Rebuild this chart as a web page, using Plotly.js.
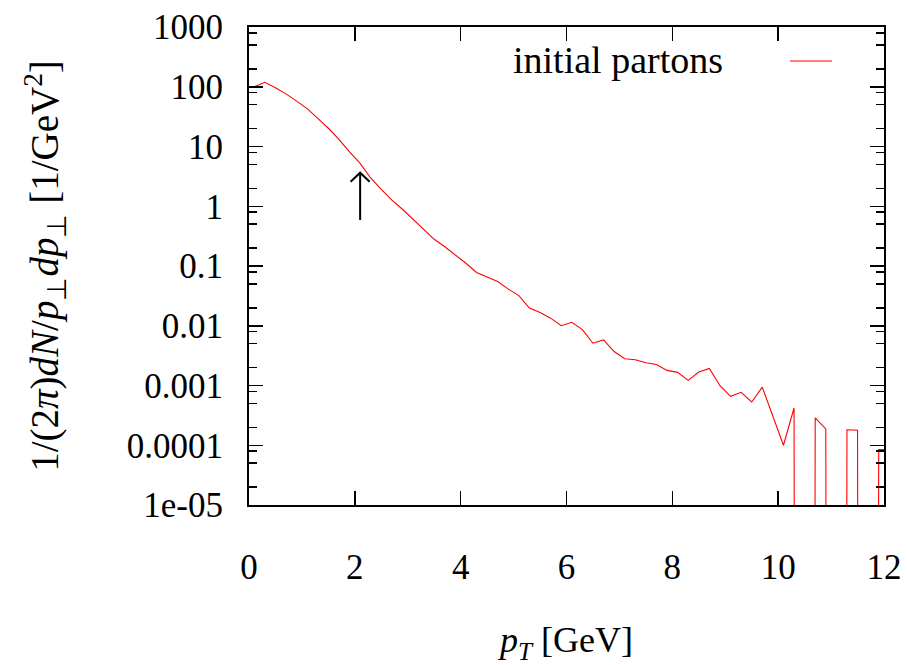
<!DOCTYPE html>
<html>
<head>
<meta charset="utf-8">
<script src="https://cdn.plot.ly/plotly-3.0.1.min.js"></script>
<style>
  html, body { margin: 0; padding: 0; background: #ffffff; }
  #chart { width: 907px; height: 665px; }
</style>
</head>
<body>
<div id="chart"></div>
<script>
// Transverse momentum bin centres [GeV]
const ptBins = [0.1, 0.3, 0.5, 0.7, 0.9, 1.1, 1.3, 1.5, 1.7, 1.9,
                2.1, 2.3, 2.5, 2.7, 2.9, 3.1, 3.3, 3.5, 3.7, 3.9,
                4.1, 4.3, 4.5, 4.7, 4.9, 5.1, 5.3, 5.5, 5.7, 5.9,
                6.1, 6.3, 6.5, 6.7, 6.9, 7.1, 7.3, 7.5, 7.7, 7.9,
                8.1, 8.3, 8.5, 8.7, 8.9, 9.1, 9.3, 9.5, 9.7, 9.9,
                10.1, 10.3, 10.5, 10.7, 10.9, 11.1, 11.3, 11.5, 11.7, 11.9,
                12.1];

// Initial parton spectrum 1/(2pi) dN / pT dpT [1/GeV^2]; 0 = empty bin
const partonSpectrum = [100, 119, 96, 76, 57.5, 43, 29.5, 20.2, 13.2, 8.1,
                        5.2, 2.97, 1.92, 1.27, 0.89, 0.605, 0.417, 0.28, 0.21, 0.154,
                        0.111, 0.078, 0.066, 0.055, 0.041, 0.032, 0.0198, 0.0167, 0.0134, 0.0100,
                        0.0114, 0.0086, 0.0051, 0.0058, 0.0037, 0.0028, 0.0027, 0.0024, 0.00225, 0.00179,
                        0.00166, 0.00122, 0.00168, 0.00193, 0.00099, 0.00066, 0.00077, 0.00053, 0.00094, 0.00031,
                        0.0001, 0.00042, 0, 0.000286, 0.000188, 0, 0.000182, 0.000178, 0, 0.000085,
                        0.000085];

// Empty bins are sent far below the visible range so the line drops
// straight down through the bottom axis
const FLOOR = 1e-100;
const plotted = partonSpectrum.map(v => (v > 0 ? v : FLOOR));

// Y tick labels (gnuplot style)
const yTickVals = [1e-5, 1e-4, 1e-3, 1e-2, 0.1, 1, 10, 100, 1000];
const yTickText = ['1e-05', '0.0001', '0.001', '0.01', '0.1', '1', '10', '100', '1000'];
const xTickVals = [0, 2, 4, 6, 8, 10, 12];
const xTickText = ['0', '2', '4', '6', '8', '10', '12'];

// Minor log ticks at 2, 5 and 8 times each decade
const minorMultipliers = [2, 5, 8];
const yMinorVals = [];
for (let e = -5; e < 3; e++) {
  minorMultipliers.forEach(m => yMinorVals.push(m * Math.pow(10, e)));
}

// Marker arrow at pT = 2.1 GeV
const arrowX = 2.1;
const arrowTail = 0.589;
const arrowTip = 3.64;
const arrowWing = 2.58;
const arrowHalfWidth = 0.18;

const FONT = 'Liberation Serif, Times New Roman, serif';

const spectrum = {
  x: ptBins,
  y: plotted,
  type: 'scatter',
  mode: 'lines',
  name: 'initial partons',
  line: { color: '#ff0000', width: 1.1 },
  showlegend: false,
  hoverinfo: 'x+y'
};

const arrow = {
  x: [arrowX, arrowX, null, arrowX - arrowHalfWidth, arrowX, arrowX + arrowHalfWidth],
  y: [arrowTail, arrowTip, null, arrowWing, arrowTip, arrowWing],
  type: 'scatter',
  mode: 'lines',
  line: { color: '#000000', width: 2 },
  showlegend: false,
  hoverinfo: 'skip'
};

const layout = {
  width: 907,
  height: 665,
  paper_bgcolor: '#ffffff',
  plot_bgcolor: '#ffffff',
  margin: { l: 249, r: 23, t: 27, b: 160 },
  font: { family: FONT, size: 35, color: '#000000' },
  showlegend: false,
  xaxis: {
    range: [0, 12],
    tickmode: 'array',
    tickvals: xTickVals,
    ticktext: xTickText,
    ticks: 'inside',
    ticklen: 14,
    tickwidth: 1.5,
    tickcolor: '#000000',
    showline: true,
    linecolor: '#000000',
    linewidth: 2,
    mirror: 'allticks',
    showgrid: false,
    zeroline: false,
    ticklabelstandoff: 30,
    tickfont: { family: FONT, size: 35 },
    title: {
      text: '<i>p</i><sub><i>T</i></sub> [GeV]',
      font: { family: FONT, size: 36 },
      standoff: 50
    }
  },
  yaxis: {
    type: 'log',
    range: [-5, 3],
    tickmode: 'array',
    tickvals: yTickVals,
    ticktext: yTickText,
    ticks: 'inside',
    ticklen: 14,
    tickwidth: 1.5,
    tickcolor: '#000000',
    minor: {
      tickmode: 'array',
      tickvals: yMinorVals,
      ticks: 'inside',
      ticklen: 8,
      tickwidth: 1.5,
      tickcolor: '#000000',
      showgrid: false
    },
    showline: true,
    linecolor: '#000000',
    linewidth: 2,
    mirror: 'allticks',
    showgrid: false,
    zeroline: false,
    ticklabelstandoff: 17,
    tickfont: { family: FONT, size: 35 },
    title: {
      text: '1/(2<i>π</i>)<i>dN</i>/<i>p</i><sub>⊥</sub><i>dp</i><sub>⊥</sub> [1/GeV<sup>2</sup>]',
      font: { family: FONT, size: 39 },
      standoff: 56
    }
  },
  annotations: [{
    xref: 'paper', yref: 'paper',
    x: 0.7496, y: 0.931,
    xanchor: 'right', yanchor: 'middle',
    text: 'initial partons',
    showarrow: false,
    font: { family: FONT, size: 38, color: '#000000' }
  }],
  shapes: [{
    type: 'line',
    xref: 'paper', yref: 'paper',
    x0: 0.852, x1: 0.918, y0: 0.929, y1: 0.929,
    line: { color: '#ff0000', width: 1.1 }
  }]
};

Plotly.newPlot('chart', [spectrum, arrow], layout, { displayModeBar: false, staticPlot: true });
</script>
</body>
</html>
